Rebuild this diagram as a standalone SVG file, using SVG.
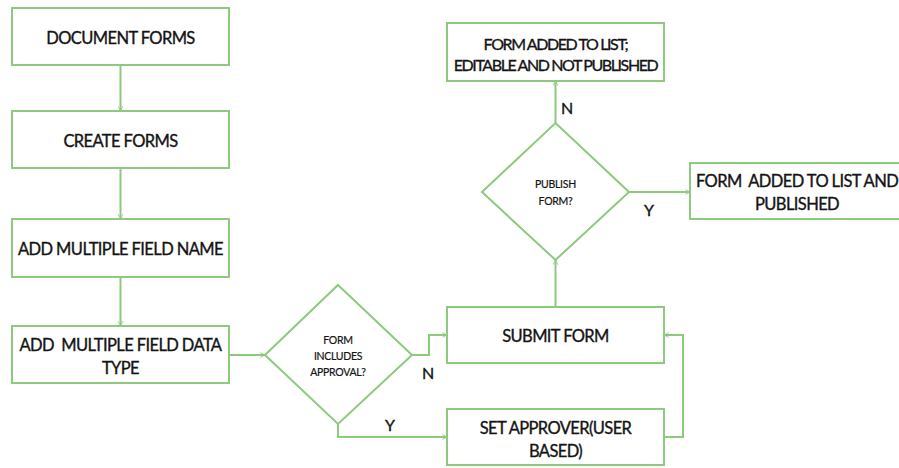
<svg xmlns="http://www.w3.org/2000/svg" width="899" height="468" viewBox="0 0 899 468">
  <defs>
    <marker id="chev" viewBox="0 0 10 10" refX="9" refY="5" markerWidth="6" markerHeight="6" orient="auto" markerUnits="userSpaceOnUse">
      <path d="M1,1 L9,5 L1,9" fill="none" stroke="#8cca7d" stroke-width="1.4"/>
    </marker>
  </defs>
  <style>
    .box { fill: #ffffff; stroke: #8cca7d; stroke-width: 2; }
    .wire { fill: none; stroke: #8cca7d; stroke-width: 2; marker-end: url(#chev); }
    text { font-family: Lato, "Liberation Sans", sans-serif; fill: #141414; stroke: #141414; stroke-width: 0.35px; text-anchor: middle; dominant-baseline: central; white-space: pre; }
    .t { font-size: 16.5px; letter-spacing: -0.6px; }
    .tight { font-size: 16px; letter-spacing: -1.4px; }
    .s { font-size: 10.5px; letter-spacing: -0.3px; stroke-width: 0.2px; }
    .lbl { font-size: 16px; }
  </style>
  <rect width="899" height="468" fill="#ffffff"/>

  <g id="connectors">
    <line class="wire" x1="120.5" y1="65" x2="120.5" y2="111"/>
    <line class="wire" x1="120.5" y1="168" x2="120.5" y2="219"/>
    <line class="wire" x1="120.5" y1="277" x2="120.5" y2="326"/>
    <line class="wire" x1="229" y1="355" x2="265" y2="355"/>
    <polyline class="wire" points="412,355 429,355 429,335 447,335"/>
    <polyline class="wire" points="338,424 338,437 447,437"/>
    <polyline class="wire" points="664,437 683,437 683,335 664,335"/>
    <line class="wire" x1="555.5" y1="307" x2="555.5" y2="260"/>
    <line class="wire" x1="555.5" y1="123" x2="555.5" y2="81"/>
    <line class="wire" x1="629" y1="192" x2="690" y2="192"/>
    <text class="lbl" x="428" y="372">N</text>
    <text class="lbl" x="390" y="424">Y</text>
    <text class="lbl" x="567" y="107">N</text>
    <text class="lbl" x="649" y="209">Y</text>
  </g>

  <g id="document-forms">
    <rect class="box" x="12" y="8" width="217" height="57"/>
    <text class="t" x="120.5" y="38">DOCUMENT FORMS</text>
  </g>
  <g id="create-forms">
    <rect class="box" x="12" y="111" width="217" height="57"/>
    <text class="t" x="120.5" y="141">CREATE FORMS</text>
  </g>
  <g id="add-field-name">
    <rect class="box" x="12" y="219" width="217" height="58"/>
    <text class="t" x="120.5" y="249">ADD MULTIPLE FIELD NAME</text>
  </g>
  <g id="add-field-type">
    <rect class="box" x="12" y="326" width="217" height="57"/>
    <text class="t" x="120.5" y="345">ADD  MULTIPLE FIELD DATA</text>
    <text class="t" x="120.5" y="368">TYPE</text>
  </g>
  <g id="includes-approval">
    <polygon class="box" points="338,285 412,355 338,424 265,355"/>
    <text class="s" x="338" y="340">FORM</text>
    <text class="s" x="338" y="356">INCLUDES</text>
    <text class="s" x="338" y="372">APPROVAL?</text>
  </g>
  <g id="submit-form">
    <rect class="box" x="447" y="307" width="217" height="56"/>
    <text class="t" x="555.5" y="336">SUBMIT FORM</text>
  </g>
  <g id="set-approver">
    <rect class="box" x="447" y="409" width="217" height="56"/>
    <text class="t" x="555.5" y="428">SET APPROVER(USER</text>
    <text class="t" x="555.5" y="451">BASED)</text>
  </g>
  <g id="publish-form">
    <polygon class="box" points="555.5,123 629,192 555.5,260 482,192"/>
    <text class="s" x="555.5" y="184">PUBLISH</text>
    <text class="s" x="555.5" y="201">FORM?</text>
  </g>
  <g id="added-not-published">
    <rect class="box" x="447" y="23" width="217" height="58"/>
    <text class="t tight" x="555.5" y="43">FORM ADDED TO LIST;</text>
    <text class="t tight" x="555.5" y="64">EDITABLE AND NOT PUBLISHED</text>
  </g>
  <g id="added-published">
    <rect class="box" x="690" y="163" width="216" height="56"/>
    <text class="t" x="797" y="181">FORM  ADDED TO LIST AND</text>
    <text class="t" x="797" y="204">PUBLISHED</text>
  </g>
</svg>
